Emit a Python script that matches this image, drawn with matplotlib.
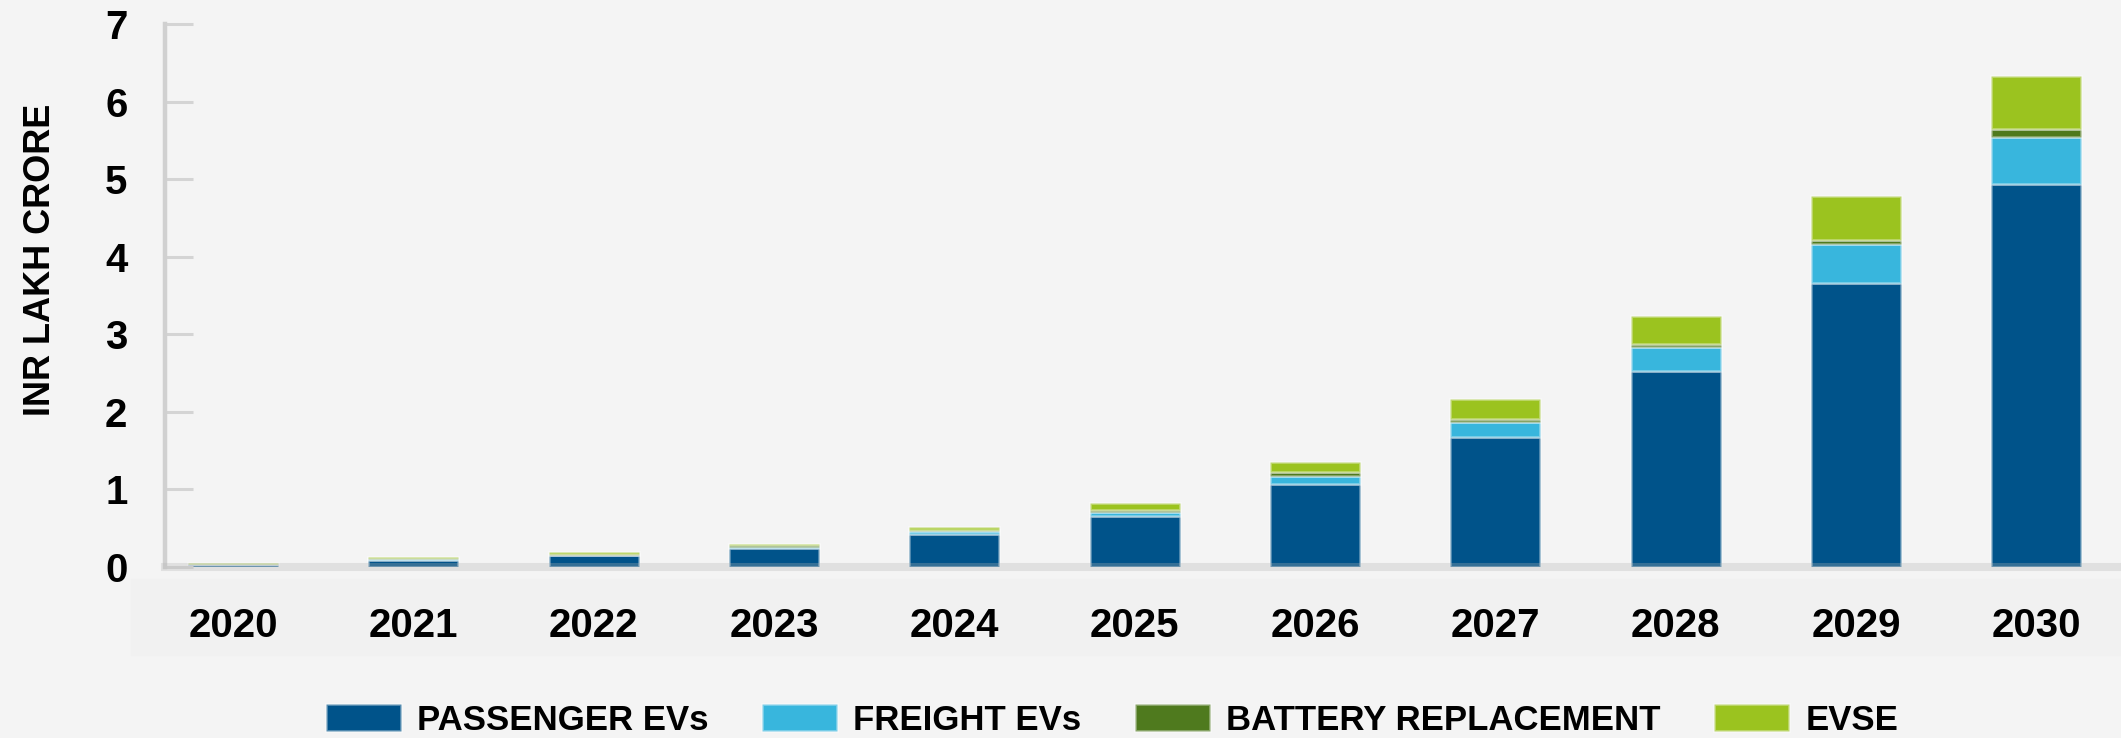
import matplotlib
matplotlib.use("Agg")
import matplotlib.pyplot as plt
from matplotlib.patches import Rectangle
import numpy as np

# EV market size, INR lakh crore
years = ["2020", "2021", "2022", "2023", "2024", "2025", "2026", "2027", "2028", "2029", "2030"]
passenger = [0.04, 0.09, 0.15, 0.25, 0.43, 0.66, 1.07, 1.68, 2.53, 3.66, 4.94]
freight = [0.003, 0.01, 0.01, 0.01, 0.03, 0.05, 0.10, 0.19, 0.30, 0.50, 0.60]
battery = [0.002, 0.01, 0.01, 0.02, 0.02, 0.03, 0.05, 0.04, 0.05, 0.05, 0.10]
evse = [0.005, 0.02, 0.02, 0.02, 0.04, 0.09, 0.14, 0.25, 0.35, 0.57, 0.69]

series = ["PASSENGER EVs", "FREIGHT EVs", "BATTERY REPLACEMENT", "EVSE"]
colors = ["#00538a", "#38b6dd", "#4f7a1e", "#9bc31f"]

plt.rcParams["font.family"] = ["Liberation Sans", "DejaVu Sans"]
plt.rcParams["font.weight"] = "bold"

bg = "#f4f4f4"
fig = plt.figure(figsize=(21.21, 7.38), dpi=100, facecolor=bg)
ax = fig.add_axes([165 / 2121, 171 / 738, 1 - 165 / 2121, (567 - 24) / 738])
ax.set_facecolor(bg)

# faint strip behind the year labels
fig.add_artist(Rectangle((131 / 2121, 1 - 655 / 738), 1, 76 / 738,
                         transform=fig.transFigure, color="#f1f1f1", zorder=0))

x = np.arange(len(years))
bottom = np.zeros(len(years))
for vals, name, c in zip([passenger, freight, battery, evse], series, colors):
    ax.bar(x, vals, 0.5, bottom=bottom, color=c, label=name,
           edgecolor=(1, 1, 1, 0.35), linewidth=2)
    bottom += np.array(vals)

ax.set_xlim(-0.377, 10.47)
ax.set_ylim(0, 7)
ax.set_yticks(range(8))
ax.set_xticks(x)
ax.set_xticklabels(years)

for s in ["top", "right"]:
    ax.spines[s].set_visible(False)
ax.spines["left"].set_color("#d0d0d0")
ax.spines["left"].set_linewidth(3.2)
ax.spines["bottom"].set_color((0.706, 0.706, 0.706, 0.3))
ax.spines["bottom"].set_linewidth(5.8)

ax.tick_params(axis="y", direction="in", length=20, width=2.2, color="#d4d4d4",
               labelsize=29, pad=27)
ax.tick_params(axis="x", length=0, labelsize=29, pad=29)

fig.text(41 / 2121, 1 - 260 / 738, "INR LAKH CRORE", rotation=90,
         ha="center", va="center", fontsize=26, fontweight="bold")

fig.legend(loc="center", bbox_to_anchor=(1112 / 2121, 1 - 720 / 738), ncol=4,
           frameon=False, fontsize=25, handlelength=2.16, handleheight=0.86,
           handletextpad=0.46, columnspacing=1.55)

fig.savefig("out.png", dpi=100, facecolor=bg)
